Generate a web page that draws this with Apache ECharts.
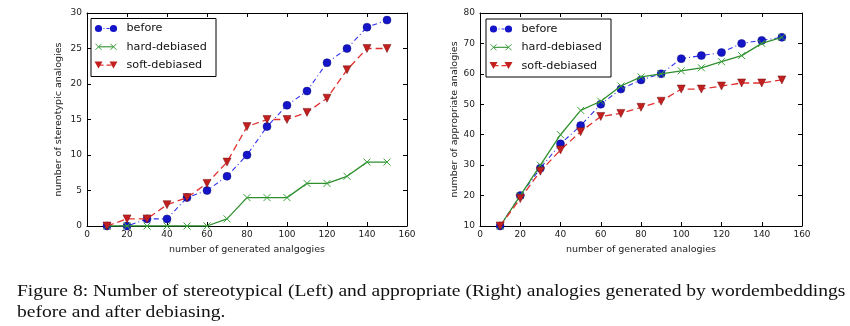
<!DOCTYPE html>
<html>
<head>
<meta charset="utf-8">
<script src="https://cdn.jsdelivr.net/npm/echarts@6/dist/echarts.min.js"></script>
<style>
  html, body { margin: 0; padding: 0; background: #fff; }
  #chart { width: 850px; height: 326px; }
</style>
</head>
<body>
<div id="chart"></div>
<script>
// Number of generated analogies (x values shared by both panels)
const generated = [10, 20, 30, 40, 50, 60, 70, 80, 90, 100, 110, 120, 130, 140, 150];

// Left panel: stereotypic analogies
const stereoBefore = [0, 0, 1, 1, 4, 5, 7, 10, 14, 17, 19, 23, 25, 28, 29];
const stereoHard   = [0, 0, 0, 0, 0, 0, 1, 4, 4, 4, 6, 6, 7, 9, 9];
const stereoSoft   = [0, 1, 1, 3, 4, 6, 9, 14, 15, 15, 16, 18, 22, 25, 25];

// Right panel: appropriate analogies
const approBefore = [10, 20, 29, 37, 43, 50, 55, 58, 60, 65, 66, 67, 70, 71, 72];
const approHard   = [10, 20, 30, 40, 48, 51, 56, 59, 60, 61, 62, 64, 66, 70, 72];
const approSoft   = [10, 19, 28, 35, 41, 46, 47, 49, 51, 55, 55, 56, 57, 57, 58];

const seriesNames = ['before', 'hard-debiased', 'soft-debiased'];
const xTicks = { min: 0, max: 160, interval: 20 };
const leftTicks = { min: 0, max: 30, interval: 5 };
const rightTicks = { min: 10, max: 80, interval: 10 };

const captionLines = [
  'Figure 8: Number of stereotypical (Left) and appropriate (Right) analogies generated by wordembeddings',
  'before and after debiasing.'
];

const FONT = 'DejaVu Sans';
const styles = {
  before: { line: '#3030f0', marker: '#1414c8' },
  hard:   { line: '#2f8f2f', marker: '#3aa03a' },
  soft:   { line: '#e23030', marker: '#c41f1f' }
};
const X_SYMBOL = 'path://M0,0L10,10M10,0L0,10';

const pairs = ys => generated.map((x, i) => [x, ys[i]]);

function makeSeries(panel, b, h, s) {
  const axes = { xAxisIndex: panel * 2, yAxisIndex: panel * 2 };
  return [
    {
      name: 'before', type: 'line', ...axes,
      data: pairs(b), symbol: 'circle', symbolSize: 8,
      lineStyle: { color: styles.before.line, width: 1.1, type: [5, 3, 1, 3] },
      itemStyle: { color: styles.before.marker, borderColor: '#101080', borderWidth: 0.5 },
      z: 3
    },
    {
      name: 'hard-debiased', type: 'line', ...axes,
      data: pairs(h), symbol: X_SYMBOL, symbolSize: 7,
      lineStyle: { color: styles.hard.line, width: 1.3 },
      itemStyle: { color: 'none', borderColor: styles.hard.marker, borderWidth: 1 },
      z: 4
    },
    {
      name: 'soft-debiased', type: 'line', ...axes,
      data: pairs(s), symbol: 'triangle', symbolRotate: 180, symbolSize: 8,
      lineStyle: { color: styles.soft.line, width: 1.3, type: [7, 4] },
      itemStyle: { color: styles.soft.marker, borderColor: '#701010', borderWidth: 0.5 },
      z: 5
    }
  ];
}

const grids = [
  { left: 87, right: 443, top: 13, bottom: 100 },
  { left: 480, right: 48, top: 13, bottom: 100 }
];

function axesFor(gi, yTicks, xName, yName, yGap) {
  const tickStyle = { inside: true, length: 4, lineStyle: { color: '#000', width: 1 } };
  const labelStyle = { fontFamily: FONT, fontSize: 9, color: '#222' };
  const frameLine = { show: true, onZero: false, lineStyle: { color: '#000' } };
  const xs = [
    {
      type: 'value', gridIndex: gi, position: 'bottom', ...xTicks,
      axisLine: frameLine, axisTick: tickStyle, axisLabel: { ...labelStyle, margin: 4 },
      splitLine: { show: false },
      name: xName, nameLocation: 'middle', nameGap: 19,
      nameTextStyle: { fontFamily: FONT, fontSize: 9.5, color: '#222', verticalAlign: 'top' }
    },
    {
      type: 'value', gridIndex: gi, position: 'top', ...xTicks,
      axisLine: frameLine, axisTick: tickStyle, axisLabel: { show: false }, splitLine: { show: false }
    }
  ];
  const ys = [
    {
      type: 'value', gridIndex: gi, position: 'left', ...yTicks,
      axisLine: frameLine, axisTick: tickStyle, axisLabel: { ...labelStyle, margin: 5 },
      splitLine: { show: false },
      name: yName, nameLocation: 'middle', nameGap: yGap,
      nameTextStyle: { fontFamily: FONT, fontSize: 9.5, color: '#222' }
    },
    {
      type: 'value', gridIndex: gi, position: 'right', ...yTicks,
      axisLine: frameLine, axisTick: tickStyle, axisLabel: { show: false }, splitLine: { show: false }
    }
  ];
  return { xs, ys };
}

const a0 = axesFor(0, leftTicks, 'number of generated analgogies', 'number of stereotypic analogies', 23);
const a1 = axesFor(1, rightTicks, 'number of generated analogies', 'number of appropriate analogies', 20);

// Legend box in matplotlib style: marker, line, marker, then label
function legendBox(x, y) {
  const w = 125, h = 58, rowH = 18.3, first = 10;
  const children = [{
    type: 'rect', shape: { x: 0, y: 0, width: w, height: h },
    style: { fill: '#fff', stroke: '#000', lineWidth: 1 }
  }];
  const handleX1 = 7.5, handleX2 = 22.5;
  seriesNames.forEach((name, i) => {
    const cy = first + i * rowH;
    const key = ['before', 'hard', 'soft'][i];
    const dash = i === 0 ? [3, 2, 1, 2] : (i === 2 ? [5, 3] : null);
    children.push({
      type: 'line', shape: { x1: handleX1, y1: cy, x2: handleX2, y2: cy },
      style: { stroke: styles[key].line, lineWidth: 1.1, lineDash: dash }
    });
    [handleX1, handleX2].forEach(mx => {
      if (i === 0) {
        children.push({ type: 'circle', shape: { cx: mx, cy: cy, r: 3.6 },
          style: { fill: styles.before.marker } });
      } else if (i === 1) {
        children.push({ type: 'polyline', shape: { points: [[mx - 3, cy - 3], [mx + 3, cy + 3]] },
          style: { stroke: styles.hard.marker, lineWidth: 1 } });
        children.push({ type: 'polyline', shape: { points: [[mx + 3, cy - 3], [mx - 3, cy + 3]] },
          style: { stroke: styles.hard.marker, lineWidth: 1 } });
      } else {
        children.push({ type: 'polygon', shape: { points: [[mx - 4, cy - 3.5], [mx + 4, cy - 3.5], [mx, cy + 3.5]] },
          style: { fill: styles.soft.marker } });
      }
    });
    children.push({
      type: 'text', x: 35.5, y: cy,
      style: { text: name, fontFamily: FONT, fontSize: 11.2, fill: '#111', verticalAlign: 'middle' }
    });
  });
  return { type: 'group', x: x, y: y, z: 100, children };
}

// Figure caption below both panels, set in a serif face and widened to span the page
const captionStyle = { fontFamily: 'Liberation Serif', fontSize: 17, fill: '#111', verticalAlign: 'middle' };
const captionScaleX = 1.15;

const option = {
  backgroundColor: '#fff',
  animation: false,
  grid: grids.map(g => ({ ...g, show: false })),
  xAxis: [...a0.xs, ...a1.xs],
  yAxis: [...a0.ys, ...a1.ys],
  series: [
    ...makeSeries(0, stereoBefore, stereoHard, stereoSoft),
    ...makeSeries(1, approBefore, approHard, approSoft)
  ],
  graphic: [
    legendBox(91, 18.5),
    legendBox(486, 19),
    {
      type: 'text', x: 17, y: 291.8, scaleX: captionScaleX, z: 100,
      style: { ...captionStyle, text: captionLines[0] }
    },
    {
      type: 'text', x: 17, y: 312.8, scaleX: captionScaleX, z: 100,
      style: { ...captionStyle, text: captionLines[1] }
    }
  ]
};

const chart = echarts.init(document.getElementById('chart'), null, { renderer: 'canvas' });
chart.setOption(option);
</script>
</body>
</html>
